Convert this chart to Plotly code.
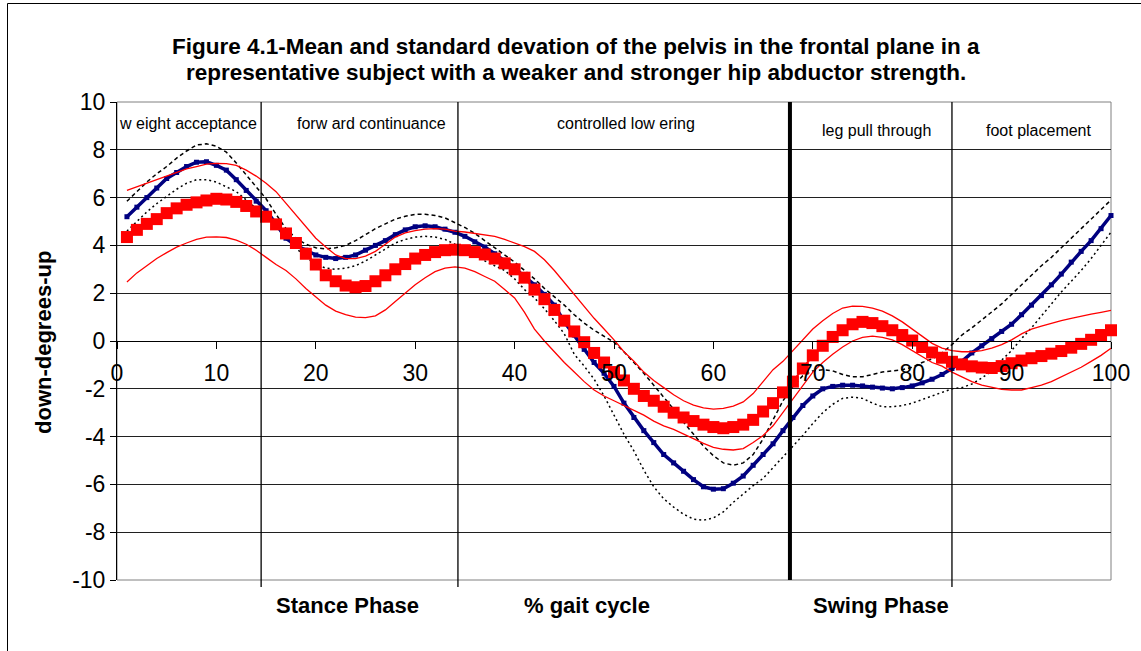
import plotly.graph_objects as go

# ---------------- data ----------------
gait_pct = list(range(1, 101))

strong_mean = [5.2, 5.6, 6.0, 6.4, 6.8, 7.05, 7.3, 7.48, 7.5, 7.35,
               7.15, 6.75, 6.3, 5.85, 5.45, 4.9, 4.3, 4.0, 3.8, 3.6,
               3.5, 3.45, 3.5, 3.6, 3.8, 4.0, 4.2, 4.45, 4.65, 4.78,
               4.82, 4.78, 4.68, 4.55, 4.38, 4.15, 3.93, 3.65, 3.35, 3.05,
               2.7, 2.35, 1.95, 1.5, 0.8, 0.25, -0.35, -0.9, -1.35, -1.9,
               -2.6, -3.2, -3.75, -4.25, -4.75, -5.1, -5.45, -5.8, -6.1, -6.2,
               -6.18, -5.95, -5.65, -5.2, -4.75, -4.3, -3.75, -3.2, -2.7, -2.3,
               -2.0, -1.9, -1.85, -1.85, -1.88, -1.93, -1.97, -2.0, -1.95, -1.88,
               -1.75, -1.6, -1.4, -1.15, -0.85, -0.5, -0.2, 0.1, 0.4, 0.7,
               1.1, 1.5, 1.9, 2.35, 2.8, 3.3, 3.75, 4.2, 4.7, 5.25]

strong_upper = [5.85, 6.25, 6.65, 7.0, 7.3, 7.65, 7.95, 8.2, 8.25, 8.15,
                7.9, 7.45, 6.95, 6.45, 5.95, 5.3, 4.7, 4.3, 4.05, 3.9,
                3.85, 3.9, 4.0, 4.2, 4.45, 4.7, 4.9, 5.1, 5.22, 5.3,
                5.3, 5.25, 5.15, 4.95, 4.75, 4.5, 4.2, 3.9, 3.6, 3.3,
                2.95, 2.6, 2.2, 1.85, 1.5, 1.1, 0.75, 0.45, 0.2, -0.05,
                -0.45, -0.9, -1.35, -1.85, -2.35, -2.85, -3.4, -3.9, -4.4, -4.8,
                -5.1, -5.2, -5.1, -4.75, -4.1, -3.3, -2.5, -1.9, -1.45, -1.25,
                -1.2, -1.25, -1.4, -1.5, -1.5, -1.4, -1.3, -1.25, -1.2, -1.1,
                -0.9, -0.75, -0.5, -0.15, 0.25, 0.55, 0.88, 1.2, 1.55, 1.95,
                2.35, 2.75, 3.15, 3.5, 3.9, 4.3, 4.7, 5.1, 5.5, 5.9]

strong_lower = [4.6, 5.0, 5.4, 5.75, 6.05, 6.35, 6.6, 6.75, 6.75, 6.65,
                6.45, 6.25, 5.9, 5.55, 5.2, 4.8, 4.35, 3.9, 3.5, 3.2,
                3.05, 3.0, 3.05, 3.15, 3.35, 3.6, 3.85, 4.1, 4.25, 4.35,
                4.38, 4.35, 4.25, 4.05, 3.85, 3.6, 3.35, 3.15, 2.95, 2.6,
                2.15, 1.8, 1.35, 0.85, 0.3, -0.55, -1.05, -1.6, -2.3, -3.1,
                -3.9, -4.6, -5.4, -6.1, -6.6, -6.95, -7.25, -7.45, -7.5, -7.4,
                -7.15, -6.75, -6.4, -6.05, -5.75, -5.3, -4.85, -4.4, -3.95, -3.45,
                -3.0, -2.65, -2.4, -2.35, -2.4, -2.6, -2.75, -2.75, -2.7, -2.6,
                -2.45, -2.3, -2.15, -2.0, -1.95, -1.8, -1.55, -1.25, -0.8, -0.4,
                0.1, 0.55, 1.05, 1.55, 2.05, 2.5, 2.95, 3.45, 4.0, 4.55]

weak_mean = [4.35, 4.65, 4.9, 5.1, 5.35, 5.55, 5.7, 5.8, 5.88, 5.95,
             5.92, 5.82, 5.65, 5.42, 5.2, 4.88, 4.5, 4.1, 3.65, 3.2,
             2.75, 2.5, 2.32, 2.25, 2.3, 2.5, 2.75, 3.0, 3.22, 3.45,
             3.6, 3.72, 3.8, 3.82, 3.8, 3.72, 3.62, 3.45, 3.25, 3.0,
             2.65, 2.15, 1.75, 1.3, 0.85, 0.4, -0.05, -0.5, -0.9, -1.3,
             -1.65, -2.0, -2.3, -2.5, -2.75, -3.0, -3.2, -3.35, -3.5, -3.6,
             -3.65, -3.6, -3.5, -3.3, -2.95, -2.6, -2.15, -1.7, -1.15, -0.6,
             -0.2, 0.17, 0.45, 0.7, 0.8, 0.75, 0.62, 0.45, 0.25, 0.02,
             -0.25, -0.48, -0.7, -0.87, -0.98, -1.06, -1.11, -1.13, -1.05, -0.93,
             -0.82, -0.72, -0.63, -0.53, -0.42, -0.28, -0.12, 0.05, 0.25, 0.45]

weak_upper = [6.3, 6.45, 6.6, 6.75, 6.9, 7.05, 7.2, 7.3, 7.4, 7.43,
              7.42, 7.35, 7.15, 6.9, 6.6, 6.25, 5.77, 5.25, 4.77, 4.3,
              3.93, 3.6, 3.45, 3.45, 3.55, 3.75, 4.05, 4.35, 4.52, 4.62,
              4.68, 4.7, 4.68, 4.6, 4.56, 4.5, 4.45, 4.38, 4.25, 4.1,
              3.95, 3.75, 3.4, 2.95, 2.45, 1.95, 1.45, 0.95, 0.5, 0.05,
              -0.45, -0.85, -1.3, -1.65, -1.95, -2.25, -2.5, -2.68, -2.8, -2.85,
              -2.82, -2.72, -2.55, -2.2, -1.7, -1.2, -0.85, -0.4, 0.05, 0.5,
              0.85, 1.15, 1.38, 1.46, 1.45, 1.38, 1.25, 1.05, 0.8, 0.5,
              0.2, -0.1, -0.3, -0.4, -0.45, -0.45, -0.4, -0.3, -0.15, 0.05,
              0.3, 0.5, 0.62, 0.75, 0.85, 0.95, 1.05, 1.12, 1.2, 1.28]

weak_lower = [2.47, 2.85, 3.15, 3.45, 3.7, 3.93, 4.1, 4.25, 4.35, 4.36,
              4.33, 4.22, 4.05, 3.8, 3.5, 3.2, 2.95, 2.6, 2.2, 1.85,
              1.5, 1.25, 1.1, 1.0, 0.98, 1.05, 1.3, 1.65, 2.0, 2.35,
              2.65, 2.9, 3.05, 3.1, 3.05, 2.9, 2.7, 2.5, 2.15, 1.8,
              1.2, 0.5, 0.0, -0.45, -0.9, -1.3, -1.7, -2.05, -2.3, -2.5,
              -2.7, -2.9, -3.1, -3.35, -3.55, -3.7, -3.9, -4.1, -4.28, -4.45,
              -4.53, -4.56, -4.5, -4.25, -3.95, -3.55, -3.0, -2.4, -1.85, -1.3,
              -0.9, -0.55, -0.25, 0.0, 0.15, 0.2, 0.15, 0.05, -0.15, -0.4,
              -0.65, -0.9, -1.05, -1.3, -1.5, -1.7, -1.85, -1.95, -2.02, -2.05,
              -2.05, -1.95, -1.85, -1.7, -1.5, -1.3, -1.1, -0.85, -0.6, -0.3]

x_ticks = [0, 10, 20, 30, 40, 50, 60, 70, 80, 90, 100]
y_ticks = [10, 8, 6, 4, 2, 0, -2, -4, -6, -8, -10]

phase_bounds = [14.5, 34.3, 84.0]     # thin sub-phase separators (% gait cycle)
toe_off = [67.7]                      # stance / swing boundary
phase_names = ["w eight acceptance", "forw ard continuance", "controlled low ering",
               "leg pull through", "foot placement"]
phase_name_x = [7.1, 25.6, 51.2, 76.4, 92.8]
phase_name_y = [9.08, 9.08, 9.08, 8.79, 8.79]
bottom_labels = ["Stance Phase", "% gait cycle", "Swing Phase"]
bottom_label_x = [23.2, 47.3, 76.9]

title_lines = ["Figure 4.1-Mean and standard devation of the pelvis in the frontal plane in a",
               "representative subject with a weaker and stronger hip abductor strength."]

# ---------------- layout geometry (pixels) ----------------
W, H = 1141, 651
L, R, T, B = 117, 1111, 102, 580


def pxx(p):
    return (p - L) / (R - L)


def pxy(p):
    return (B - p) / (B - T)


FONT = "Arial, 'Liberation Sans', sans-serif"

fig = go.Figure()

fig.add_trace(go.Scatter(x=gait_pct, y=strong_upper, mode="lines",
                         line=dict(color="black", width=1.5, dash="4px,3px"),
                         hoverinfo="skip", showlegend=False))
fig.add_trace(go.Scatter(x=gait_pct, y=strong_lower, mode="lines",
                         line=dict(color="black", width=1.5, dash="2px,3px"),
                         hoverinfo="skip", showlegend=False))
fig.add_trace(go.Scatter(x=gait_pct, y=strong_mean, mode="lines+markers",
                         line=dict(color="#000080", width=3.5),
                         marker=dict(symbol="square", size=5, color="#000080"),
                         cliponaxis=False, showlegend=False, name="stronger"))
fig.add_trace(go.Scatter(x=gait_pct, y=weak_mean, mode="lines+markers",
                         line=dict(color="#FF0000", width=2),
                         marker=dict(symbol="square", size=12, color="#FF0000"),
                         cliponaxis=False, showlegend=False, name="weaker"))
fig.add_trace(go.Scatter(x=gait_pct, y=weak_upper, mode="lines",
                         line=dict(color="#FF0000", width=1.3),
                         hoverinfo="skip", showlegend=False))
fig.add_trace(go.Scatter(x=gait_pct, y=weak_lower, mode="lines",
                         line=dict(color="#FF0000", width=1.3),
                         hoverinfo="skip", showlegend=False))

shapes = []
# plot area border (grey)
shapes.append(dict(type="rect", xref="paper", yref="paper", x0=0, x1=1, y0=0, y1=1,
                   line=dict(color="#808080", width=1), layer="below"))
# outer chart border
shapes.append(dict(type="rect", xref="paper", yref="paper",
                   x0=pxx(7.5), x1=pxx(1160), y0=pxy(670), y1=pxy(3.5),
                   line=dict(color="black", width=1), layer="below"))
for xb in phase_bounds:
    shapes.append(dict(type="line", xref="x", yref="paper", x0=xb, x1=xb,
                       y0=pxy(587), y1=1, line=dict(color="black", width=1.3)))
for xb in toe_off:
    shapes.append(dict(type="line", xref="x", yref="paper", x0=xb, x1=xb,
                       y0=0, y1=1, line=dict(color="black", width=4)))

annotations = []
for name, xx, yy in zip(phase_names, phase_name_x, phase_name_y):
    annotations.append(dict(text=name, x=xx, y=yy, xref="x", yref="y",
                            showarrow=False, xanchor="center", yanchor="middle",
                            font=dict(family=FONT, size=16, color="black")))
for name, xx in zip(bottom_labels, bottom_label_x):
    annotations.append(dict(text="<b>" + name + "</b>", x=xx, y=pxy(605), xref="x", yref="paper",
                            showarrow=False, xanchor="center", yanchor="middle",
                            font=dict(family=FONT, size=22, color="black")))
annotations.append(dict(text="<b>" + title_lines[0] + "</b>", x=pxx(576), y=pxy(47),
                        xref="paper", yref="paper", showarrow=False,
                        xanchor="center", yanchor="middle",
                        font=dict(family=FONT, size=22.5, color="black")))
annotations.append(dict(text="<b>" + title_lines[1] + "</b>", x=pxx(576), y=pxy(72),
                        xref="paper", yref="paper", showarrow=False,
                        xanchor="center", yanchor="middle",
                        font=dict(family=FONT, size=22.5, color="black")))
annotations.append(dict(text="<b>down-degrees-up</b>", x=pxx(43), y=pxy(343),
                        xref="paper", yref="paper", showarrow=False, textangle=-90,
                        xanchor="center", yanchor="middle",
                        font=dict(family=FONT, size=22, color="black")))

fig.update_layout(
    width=W, height=H,
    margin=dict(l=L, r=W - R, t=T, b=H - B, pad=0),
    paper_bgcolor="white", plot_bgcolor="white",
    font=dict(family=FONT, color="black"),
    showlegend=False,
    shapes=shapes,
    annotations=annotations,
    xaxis=dict(range=[0, 100], tickvals=x_ticks, ticktext=[str(v) for v in x_ticks],
               anchor="free", position=0.5, showline=True, linecolor="black", linewidth=1,
               ticks="outside", ticklen=7, tickcolor="black", showgrid=False, zeroline=False,
               ticklabelstandoff=4,
               tickfont=dict(family=FONT, size=23, color="black")),
    yaxis=dict(range=[-10, 10], tickvals=y_ticks, ticktext=[str(v) for v in y_ticks],
               showline=True, linecolor="black", linewidth=1,
               ticks="outside", ticklen=6, tickcolor="black",
               showgrid=True, gridcolor="#202020", gridwidth=1, zeroline=False,
               tickfont=dict(family=FONT, size=23, color="black")),
)

fig.write_html("out.html", config={"displayModeBar": False},
               post_script="document.body.style.margin='0';")
